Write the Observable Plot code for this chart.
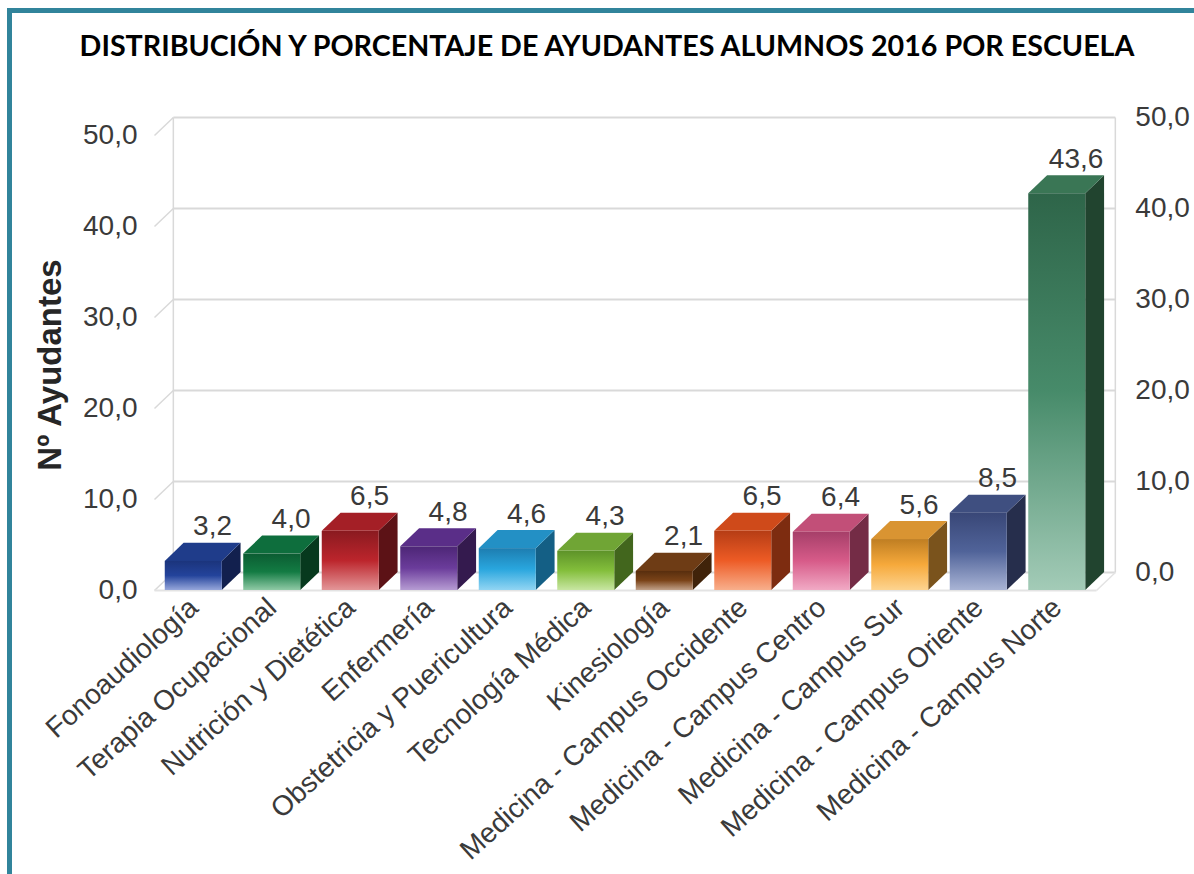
<!DOCTYPE html>
<html>
<head>
<meta charset="utf-8">
<script src="https://cdn.jsdelivr.net/npm/d3@7"></script>
<script src="https://cdn.jsdelivr.net/npm/@observablehq/plot@0.6"></script>
<style>
  html, body { margin: 0; padding: 0; background: #fff; }
  #wrap { position: relative; width: 1194px; height: 874px; overflow: hidden; }
  #frame { position: absolute; left: 7px; top: 8px; right: -10px; bottom: -10px;
           border-left: 5px solid #31849b; border-top: 5px solid #31849b; }
  #title { position: absolute; left: 10px; width: 1194px; top: 29px; text-align: center;
           font-family: Lato, "Open Sans", sans-serif; font-weight: 700; font-size: 27px;
           color: #000; white-space: nowrap; line-height: 32px; }
  #title span { display: inline-block; }
  #chart { position: absolute; left: 0; top: 0; }
</style>
</head>
<body>
<div id="wrap">
  <div id="frame"></div>
  <div id="chart"></div>
  <div id="title"><span id="tspan">DISTRIBUCIÓN Y PORCENTAJE DE AYUDANTES ALUMNOS 2016 POR ESCUELA</span></div>
</div>
<script>
// ---- data ----
const categories = [
  "Fonoaudiología", "Terapia Ocupacional", "Nutrición y Dietética", "Enfermería",
  "Obstetricia y Puericultura", "Tecnología Médica", "Kinesiología",
  "Medicina - Campus Occidente", "Medicina - Campus Centro", "Medicina - Campus Sur",
  "Medicina - Campus Oriente", "Medicina - Campus Norte"
];
const values = [3.2, 4.0, 6.5, 4.8, 4.6, 4.3, 2.1, 6.5, 6.4, 5.6, 8.5, 43.6];
const yTicks = [0, 10, 20, 30, 40, 50];
const yLabel = "Nº Ayudantes";
// colours: [front top, front middle, front bottom, top face, side face]
const palette = [
  ["#1b347c", "#23439b", "#97a7db", "#1f3c8a", "#12204e"],
  ["#0b5c32", "#137b43", "#90caa6", "#0e6e3d", "#07391e"],
  ["#8a1a20", "#bc252c", "#e39698", "#a41f26", "#5c1216"],
  ["#4d2676", "#6b3c9b", "#b69cd3", "#5a2e88", "#341a4e"],
  ["#1d7db0", "#29a6de", "#92d5f3", "#2390c5", "#145f85"],
  ["#5e9329", "#83be3b", "#c8e6a2", "#70a535", "#42661d"],
  ["#582e0e", "#7a4318", "#c2a28a", "#6e3c15", "#40230a"],
  ["#b63d15", "#ed5b25", "#f8af8c", "#cf4a1a", "#7d2c10"],
  ["#a63f69", "#d75b89", "#f1aac5", "#c24f78", "#742c46"],
  ["#bf7e22", "#f6a93b", "#fdd490", "#d99432", "#7a531c"],
  ["#394777", "#506399", "#a9b4d5", "#3f4f80", "#262e4c"],
  ["#2e6549", "#478b6a", "#a3cbb7", "#3a7655", "#21442f"]
];

// ---- geometry in data units (band step = 1 along x) ----
const PAD = 0.137;          // gap between band edge and bar
const DX = 0.24;            // 3D depth along x (data units)
const DY = 1.98;            // 3D depth along y (data units)
const X0 = -0.5, X1 = categories.length - 0.5;

const bars = values.map((v, i) => ({i, v, cat: categories[i], xl: i - 0.5 + PAD, xr: i + 0.5 - PAD}));
const topPts = bars.flatMap(b => [
  {i: b.i, y: b.v, x1: b.xl, x2: b.xr},
  {i: b.i, y: b.v + DY, x1: b.xl + DX, x2: b.xr + DX}
]);
const sidePts = bars.flatMap(b => [
  {i: b.i, x: b.xr, y1: 0, y2: b.v},
  {i: b.i, x: b.xr + DX, y1: DY, y2: b.v + DY}
]);
const fmt = v => v.toFixed(1).replace(".", ",");

const grid = "#d9d9d9";
const textColor = "#3a3a3a";
const font = "'Liberation Sans', Arial, sans-serif";

const plot = Plot.plot({
  width: 1194,
  height: 874,
  marginLeft: 154,
  marginRight: 98,
  marginTop: 135,
  marginBottom: 284,
  x: {domain: [X0, X1], axis: null},
  y: {domain: [0, 50], axis: null},
  color: {type: "identity"},
  style: {fontFamily: font, background: "transparent", overflow: "visible"},
  marks: [
    // back wall gridlines
    Plot.link(yTicks, {x1: X0 + DX, x2: X1 + DX, y1: d => d + DY, y2: d => d + DY, stroke: grid, strokeWidth: 2}),
    // left wall diagonals
    Plot.link(yTicks, {x1: X0, x2: X0 + DX, y1: d => d, y2: d => d + DY, stroke: grid, strokeWidth: 1.5}),
    // back wall verticals
    Plot.link([X0 + DX, X1 + DX], {x1: d => d, x2: d => d, y1: DY, y2: 50 + DY, stroke: grid, strokeWidth: 1.5}),
    // floor front edge & right diagonal
    Plot.link([0], {x1: X0, x2: X1, y1: 0, y2: 0, stroke: "#e3e3e3", strokeWidth: 2}),
    Plot.link([0], {x1: X1, x2: X1 + DX, y1: 0, y2: DY, stroke: "#e3e3e3", strokeWidth: 1.5}),
    // bar side faces
    Plot.areaY(sidePts, {x: "x", y1: "y1", y2: "y2", z: "i", fill: d => palette[d.i][4], curve: "linear"}),
    // bar top faces
    Plot.areaX(topPts, {y: "y", x1: "x1", x2: "x2", z: "i", fill: d => palette[d.i][3], curve: "linear"}),
    // bar front faces
    Plot.rect(bars, {x1: "xl", x2: "xr", y1: 0, y2: "v", fill: d => `url(#grad${d.i})`}),
    // value labels
    Plot.text(bars, {x: d => d.i + DX, y: d => d.v + DY, text: d => fmt(d.v), dy: -8, lineAnchor: "bottom",
      fontSize: 28, fill: textColor}),
    // left axis labels
    Plot.text(yTicks, {x: X0, y: d => d, text: fmt, dx: -17, textAnchor: "end", fontSize: 28, fill: textColor}),
    // right axis labels
    Plot.text(yTicks, {x: X1 + DX, y: d => d + DY, text: fmt, dx: 20, textAnchor: "start", fontSize: 28, fill: textColor}),
    // category labels
    Plot.text(bars, {x: "i", y: 0, text: "cat", rotate: -42, textAnchor: "end", dx: 0, dy: 13,
      fontSize: 28, fill: textColor}),
    // y axis title
    Plot.text([yLabel], {frameAnchor: "left", dx: -104, dy: 2, text: d => d, rotate: -90,
      textAnchor: "middle", fontSize: 33, fontWeight: "bold", fill: "#262626"})
  ]
});

// gradients for front faces
const svg = d3.select(plot);
const defs = svg.insert("defs", ":first-child");
palette.forEach((p, i) => {
  const g = defs.append("linearGradient").attr("id", `grad${i}`)
    .attr("x1", 0).attr("y1", 0).attr("x2", 0).attr("y2", 1);
  g.append("stop").attr("offset", "0%").attr("stop-color", p[0]);
  g.append("stop").attr("offset", "50%").attr("stop-color", p[1]);
  g.append("stop").attr("offset", "100%").attr("stop-color", p[2]);
});
document.getElementById("chart").appendChild(plot);

// fit title width to the reference (~1055px)
const ts = document.getElementById("tspan");
const w = ts.getBoundingClientRect().width;
if (w > 0) {
  const fs = 27 * 1055 / w;
  document.getElementById("title").style.fontSize = fs.toFixed(2) + "px";
}
</script>
</body>
</html>
